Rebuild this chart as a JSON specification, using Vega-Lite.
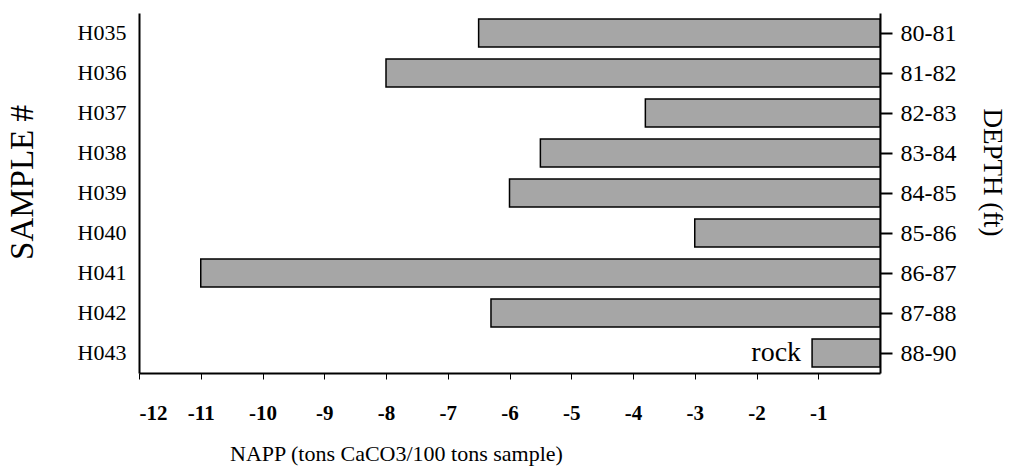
{
  "$schema": "https://vega.github.io/schema/vega-lite/v6.json",
  "autosize": "none",
  "width": 741,
  "height": 360,
  "padding": {"left": 139, "top": 13, "right": 132, "bottom": 100},
  "background": "white",
  "config": {
    "font": "Liberation Serif",
    "view": {"stroke": null},
    "axis": {"grid": false, "domainColor": "black", "tickColor": "black", "labelColor": "black", "titleColor": "black", "labelFont": "Liberation Serif", "titleFont": "Liberation Serif", "titleFontWeight": "normal", "domainWidth": 2}
  },
  "data": {
    "values": [
      {"sample": "H035", "depth": "80-81", "napp": -6.5, "note": ""},
      {"sample": "H036", "depth": "81-82", "napp": -8.0, "note": ""},
      {"sample": "H037", "depth": "82-83", "napp": -3.8, "note": ""},
      {"sample": "H038", "depth": "83-84", "napp": -5.5, "note": ""},
      {"sample": "H039", "depth": "84-85", "napp": -6.0, "note": ""},
      {"sample": "H040", "depth": "85-86", "napp": -3.0, "note": ""},
      {"sample": "H041", "depth": "86-87", "napp": -11.0, "note": ""},
      {"sample": "H042", "depth": "87-88", "napp": -6.3, "note": ""},
      {"sample": "H043", "depth": "88-90", "napp": -1.1, "note": "rock"}
    ]
  },
  "layer": [
    {
      "mark": {"type": "bar", "fill": "#a6a6a6", "stroke": "black", "strokeWidth": 1.5},
      "encoding": {
        "y": {
          "field": "sample", "type": "nominal", "sort": null,
          "scale": {"paddingInner": 0.3, "paddingOuter": 0.15},
          "axis": {"orient": "left", "title": "SAMPLE #", "ticks": false, "labelFontSize": 22, "labelPadding": 13, "titleFontSize": 33, "titlePadding": 38, "titleY": 169}
        },
        "x": {
          "field": "napp", "type": "quantitative",
          "scale": {"domain": [-12, 0], "nice": false, "zero": false},
          "axis": {
            "values": [-12, -11, -10, -9, -8, -7, -6, -5, -4, -3, -2, -1],
            "labelExpr": "'-' + abs(datum.value)",
            "labelOverlap": false,
            "title": "NAPP (tons CaCO3/100 tons sample)",
            "labelFontSize": 21, "labelFontWeight": "bold", "tickSize": 6, "labelPadding": 23,
            "titleFontSize": 22, "titleX": 257, "titleY": 87, "titleBaseline": "alphabetic", "titleAlign": "center", "titleAnchor": null
          }
        }
      }
    },
    {
      "mark": {"type": "text", "align": "right", "baseline": "middle", "dx": -11, "fontSize": 28, "font": "Liberation Serif", "color": "black"},
      "encoding": {
        "y": {
          "field": "depth", "type": "nominal", "sort": null,
          "scale": {"paddingInner": 0.3, "paddingOuter": 0.15},
          "axis": {"orient": "right", "title": "DEPTH (ft)", "tickSize": 12, "tickWidth": 2, "labelFontSize": 24, "labelPadding": 8, "titleFontSize": 27, "titlePadding": 22, "titleY": 159}
        },
        "x": {"field": "napp", "type": "quantitative"},
        "text": {"field": "note"}
      }
    }
  ],
  "resolve": {"scale": {"y": "independent"}}
}
